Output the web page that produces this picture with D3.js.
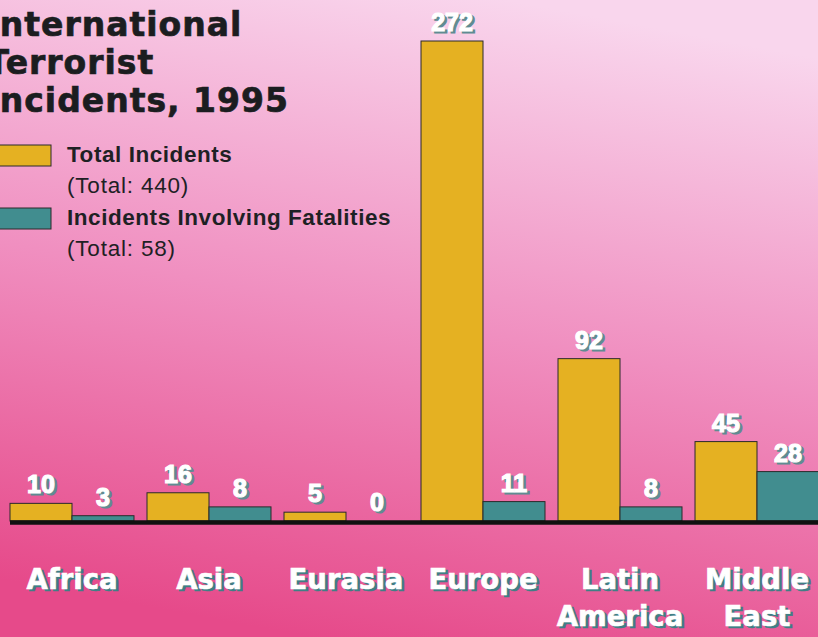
<!DOCTYPE html>
<html>
<head>
<meta charset="utf-8">
<script src="https://cdn.jsdelivr.net/npm/d3@7"></script>
<style>
    body { margin: 0; padding: 0; overflow: hidden; }
    svg { display: block; }
    .num { font-family: "Liberation Sans", Arial, sans-serif; font-weight: bold; font-size: 25px; }
    .cat { font-family: "DejaVu Sans", sans-serif; font-weight: bold; font-size: 27.5px; }
    .title { font-family: "DejaVu Sans", sans-serif; font-weight: bold; font-size: 33px; fill: #1b1d20; }
    .legend { font-family: "Liberation Sans", Arial, sans-serif; font-size: 22.5px; fill: #1e2124; }
</style>
</head>
<body>
<svg width="818" height="637"></svg>
<script>
// values
var regions = ["Africa", "Asia", "Eurasia", "Europe", "Latin America", "Middle East"];
var totalIncidents = [10, 16, 5, 272, 92, 45];
var fatalIncidents = [3, 8, 0, 11, 8, 28];
var seriesNames = ["Total Incidents", "Incidents Involving Fatalities"];
var seriesTotals = ["(Total: 440)", "(Total: 58)"];
var titleLines = ["International", "Terrorist", "Incidents, 1995"];

var colors = ["#e5b122", "#418d8f"];

var svg = d3.select("svg"),
    width = +svg.attr("width"),
    height = +svg.attr("height");

// background gradient
var defs = svg.append("defs");
var grad = defs.append("linearGradient")
    .attr("id", "bg")
    .attr("x1", "62%").attr("y1", "0%")
    .attr("x2", "38%").attr("y2", "100%");
grad.append("stop").attr("offset", "0%").attr("stop-color", "#f9d6ed");
grad.append("stop").attr("offset", "50%").attr("stop-color", "#f08fc0");
grad.append("stop").attr("offset", "100%").attr("stop-color", "#e64a8a");

svg.append("rect")
    .attr("width", width).attr("height", height)
    .attr("fill", "url(#bg)");

var data = regions.map(function (r, i) {
    return { region: r, values: [totalIncidents[i], fatalIncidents[i]] };
});

var x = d3.scaleBand().domain(regions).range([10, 819]).paddingInner(0.095).paddingOuter(0);
var x1 = d3.scaleBand().domain([0, 1]).range([0, x.bandwidth()]);
var y = d3.scaleLinear().domain([0, 272]).range([521, 41]);

// bars
var group = svg.selectAll(".region")
    .data(data)
    .enter()
    .append("g")
    .attr("class", "region")
    .attr("transform", function (d) { return "translate(" + x(d.region) + ",0)"; });

group.selectAll("rect")
    .data(function (d) { return d.values; })
    .enter()
    .append("rect")
    .attr("x", function (d, i) { return x1(i); })
    .attr("y", function (d) { return y(d); })
    .attr("width", x1.bandwidth())
    .attr("height", function (d) { return y(0) - y(d); })
    .attr("fill", function (d, i) { return colors[i]; })
    .attr("stroke", "#2a2a2a")
    .attr("stroke-width", 1);

// baseline
svg.append("line")
    .attr("x1", x.range()[0]).attr("x2", width)
    .attr("y1", y(0) + 1.5).attr("y2", y(0) + 1.5)
    .attr("stroke", "#111").attr("stroke-width", 4.5);

// white text with a shadow behind it
function shadowText(sel, cls, shadow, sw) {
    sel.each(function (d) {
        var g = d3.select(this);
        g.append("text").attr("class", cls)
            .attr("x", 2.5).attr("y", 2)
            .attr("text-anchor", "middle")
            .attr("fill", shadow).attr("stroke", shadow).attr("stroke-width", sw)
            .text(d.text);
        g.append("text").attr("class", cls)
            .attr("text-anchor", "middle")
            .attr("fill", "#fff").attr("stroke", "#fff").attr("stroke-width", sw)
            .text(d.text);
    });
}

var numData = [];
data.forEach(function (d) {
    d.values.forEach(function (v, i) {
        numData.push({ region: d.region, i: i, v: v, text: String(v) });
    });
});

svg.selectAll(".numlabel")
    .data(numData)
    .enter()
    .append("g")
    .attr("class", "numlabel")
    .attr("transform", function (d) {
        return "translate(" + (x(d.region) + x1(d.i) + x1.bandwidth() / 2) + "," + (y(d.v) - 10) + ")";
    })
    .call(shadowText, "num", "#5f8c92", 1.2);

// category labels
regions.forEach(function (r) {
    var cx = x(r) + x.bandwidth() / 2;
    r.split(" ").forEach(function (line, k) {
        svg.append("g")
            .datum({ text: line })
            .attr("transform", "translate(" + cx + "," + (589 + k * 37) + ")")
            .call(shadowText, "cat", "#3f7f86", 0.6);
    });
});

// title
svg.append("g").selectAll("text")
    .data(titleLines)
    .enter()
    .append("text")
    .attr("class", "title")
    .attr("x", -13.5)
    .attr("y", function (d, i) { return 36 + i * 38; })
    .attr("letter-spacing", 1)
    .attr("stroke", "#1b1d20").attr("stroke-width", 0.7)
    .text(function (d) { return d; });

// legend
var legend = svg.append("g").selectAll("g")
    .data(seriesNames)
    .enter()
    .append("g")
    .attr("transform", function (d, i) { return "translate(0," + (145 + i * 63) + ")"; });

legend.append("rect")
    .attr("x", -10).attr("y", 0)
    .attr("width", 61).attr("height", 21)
    .attr("fill", function (d, i) { return colors[i]; })
    .attr("stroke", "#2a2a2a");

legend.append("text")
    .attr("class", "legend")
    .attr("x", 67).attr("y", 17)
    .attr("font-weight", "bold")
    .attr("letter-spacing", 0.55)
    .text(function (d) { return d; });

legend.append("text")
    .attr("class", "legend")
    .attr("x", 67).attr("y", 48)
    .attr("letter-spacing", 0.8)
    .text(function (d, i) { return seriesTotals[i]; });
</script>
</body>
</html>
